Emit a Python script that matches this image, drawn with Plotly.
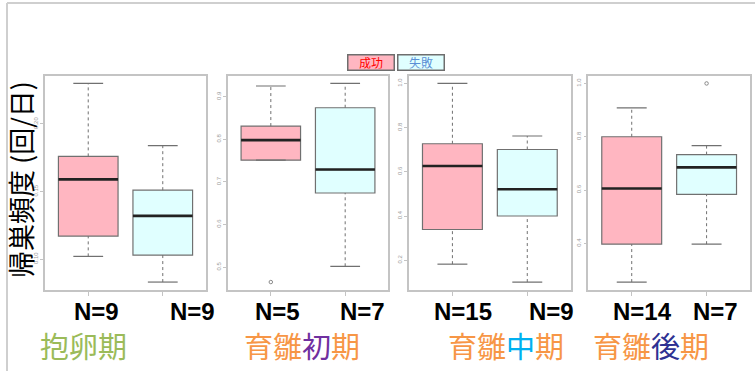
import plotly.graph_objects as go

# Breeding stages and sample sizes
periods = ["抱卵期", "育雛初期", "育雛中期", "育雛後期"]
n_success = [9, 5, 15, 14]
n_failure = [9, 7, 9, 7]

# Box statistics per stage: lower whisker, Q1, median, Q3, upper whisker, outliers
success_low = [0.102, 0.751, 0.182, 0.255]
success_q1 = [0.117, 0.751, 0.339, 0.397]
success_med = [0.159, 0.798, 0.626, 0.606]
success_q3 = [0.176, 0.831, 0.727, 0.800]
success_high = [0.230, 0.925, 1.000, 0.908]
success_out = [[], [0.465], [], []]

failure_low = [0.083, 0.502, 0.101, 0.397]
failure_q1 = [0.103, 0.674, 0.400, 0.584]
failure_med = [0.132, 0.729, 0.521, 0.685]
failure_q3 = [0.151, 0.874, 0.701, 0.733]
failure_high = [0.184, 0.931, 0.762, 0.767]
failure_out = [[], [], [], [1.0]]

# Tick labels per panel
tick_vals = [
    [0.10, 0.15, 0.20],
    [0.5, 0.6, 0.7, 0.8, 0.9],
    [0.2, 0.4, 0.6, 0.8, 1.0],
    [0.4, 0.6, 0.8, 1.0],
]
tick_text = [
    ["0.10", "0.15", "0.20"],
    ["0.5", "0.6", "0.7", "0.8", "0.9"],
    ["0.2", "0.4", "0.6", "0.8", "1.0"],
    ["0.4", "0.6", "0.8", "1.0"],
]

W, H = 755, 371
PINK = "#FFB6C1"
CYAN = "#E0FFFF"
BOX_LINE = "#707070"
FRAME = "#c4c4c4"
TICK_FONT = "#9a9a9a"

# Panel placement in pixels (left, right), shared top/bottom
panel_px = [(45, 206), (227.7, 388.3), (409, 570.7), (588.3, 750)]
top_px, bottom_px = 75.5, 290
BOX_W = 0.8

fig = go.Figure()


def add_group(i, pos, low, q1, med, q3, high, outs, fill):
    xa = "x" if i == 0 else f"x{i + 1}"
    ya = "y" if i == 0 else f"y{i + 1}"
    # box body
    fig.add_trace(go.Box(
        x=[pos], q1=[q1], median=[med], q3=[q3],
        lowerfence=[q1], upperfence=[q3],
        width=BOX_W, whiskerwidth=0, fillcolor=fill,
        line=dict(color=BOX_LINE, width=1.2),
        boxpoints=False, hoverinfo="skip", showlegend=False,
        xaxis=xa, yaxis=ya,
    ))
    # dashed whisker stems
    for a, b in ((low, q1), (q3, high)):
        fig.add_trace(go.Scatter(
            x=[pos, pos], y=[a, b], mode="lines",
            line=dict(color=BOX_LINE, width=1, dash="3px,3px"),
            hoverinfo="skip", showlegend=False, xaxis=xa, yaxis=ya,
        ))
    # whisker caps
    for v in (low, high):
        fig.add_trace(go.Scatter(
            x=[pos - BOX_W / 4, pos + BOX_W / 4], y=[v, v], mode="lines",
            line=dict(color=BOX_LINE, width=1.2),
            hoverinfo="skip", showlegend=False, xaxis=xa, yaxis=ya,
        ))
    # median
    fig.add_trace(go.Scatter(
        x=[pos - BOX_W / 2, pos + BOX_W / 2], y=[med, med], mode="lines",
        line=dict(color="#222222", width=2.6),
        hoverinfo="skip", showlegend=False, xaxis=xa, yaxis=ya,
    ))
    # outliers
    if outs:
        fig.add_trace(go.Scatter(
            x=[pos] * len(outs), y=outs, mode="markers",
            marker=dict(symbol="circle-open", size=3.5, color="#8a8a8a",
                        line=dict(width=1)),
            hoverinfo="skip", showlegend=False, xaxis=xa, yaxis=ya,
        ))


layout_axes = {}
for i in range(len(periods)):
    add_group(i, 1, success_low[i], success_q1[i], success_med[i],
              success_q3[i], success_high[i], success_out[i], PINK)
    add_group(i, 2, failure_low[i], failure_q1[i], failure_med[i],
              failure_q3[i], failure_high[i], failure_out[i], CYAN)

    vals = [success_low[i], success_high[i], failure_low[i], failure_high[i]]
    vals += success_out[i] + failure_out[i]
    lo, hi = min(vals), max(vals)
    pad = (hi - lo) * 0.04

    left, right = panel_px[i]
    xkey = "xaxis" if i == 0 else f"xaxis{i + 1}"
    ykey = "yaxis" if i == 0 else f"yaxis{i + 1}"
    xa_name = "x" if i == 0 else f"x{i + 1}"
    ya_name = "y" if i == 0 else f"y{i + 1}"
    layout_axes[xkey] = dict(
        domain=[left / W, right / W], range=[0.42, 2.58],
        anchor=ya_name, tickvals=[1, 2], showticklabels=False,
        ticks="outside", ticklen=4, tickcolor=FRAME, tickwidth=1,
        showline=True, mirror=True, linecolor=FRAME, linewidth=1.5,
        showgrid=False, zeroline=False, fixedrange=True,
    )
    layout_axes[ykey] = dict(
        domain=[1 - bottom_px / H, 1 - top_px / H], range=[lo - pad, hi + pad],
        anchor=xa_name, tickvals=tick_vals[i], ticktext=tick_text[i],
        tickangle=-90, tickfont=dict(size=6, color=TICK_FONT,
                                     family="Liberation Sans, Arial"),
        ticks="outside", ticklen=3, tickcolor=FRAME, tickwidth=1,
        showline=True, mirror=True, linecolor=FRAME, linewidth=1.5,
        showgrid=False, zeroline=False, fixedrange=True,
    )

annotations = []

# Sample size labels under each box
n_labels = []
for i in range(len(periods)):
    n_labels += [f"N={n_success[i]}", f"N={n_failure[i]}"]
n_x_px = [96, 192, 277, 362, 463, 551, 642, 715]
for txt, xp in zip(n_labels, n_x_px):
    annotations.append(dict(
        text=f"<b>{txt}</b>", x=xp / W, y=1 - 311 / H, xref="paper", yref="paper",
        xanchor="center", yanchor="middle", showarrow=False,
        font=dict(size=24, color="#000000", family="Liberation Sans, Arial"),
    ))

# Stage names with coloured parts
ORANGE = "#F79646"
stage_text = [
    '<span style="color:#9BBB59">抱卵期</span>',
    f'<span style="color:{ORANGE}">育雛</span><span style="color:#7030A0">初</span>'
    f'<span style="color:{ORANGE}">期</span>',
    f'<span style="color:{ORANGE}">育雛</span><span style="color:#00B0F0">中</span>'
    f'<span style="color:{ORANGE}">期</span>',
    f'<span style="color:{ORANGE}">育雛</span><span style="color:#2E3192">後</span>'
    f'<span style="color:{ORANGE}">期</span>',
]
stage_x_px = [83, 302, 506, 651]
for txt, xp in zip(stage_text, stage_x_px):
    annotations.append(dict(
        text=txt, x=xp / W, y=1 - 345 / H, xref="paper", yref="paper",
        xanchor="center", yanchor="middle", showarrow=False,
        font=dict(size=29, family="Noto Sans CJK JP"),
    ))

# Y-axis title
annotations.append(dict(
    text="帰巣頻度 (回/日)", x=20 / W, y=1 - 180 / H, xref="paper", yref="paper",
    xanchor="center", yanchor="middle", textangle=-90, showarrow=False,
    font=dict(size=27, color="#000000", family="Noto Sans CJK JP"),
))

# Legend boxes
for txt, xp, bg, fc in (("成功", 371.2, PINK, "#FF0000"),
                        ("失敗", 421.3, CYAN, "#5B8FD6")):
    annotations.append(dict(
        text=txt, x=xp / W, y=1 - 62 / H, xref="paper", yref="paper",
        xanchor="center", yanchor="middle", showarrow=False,
        width=43, height=12, bgcolor=bg, bordercolor="#6e6e6e",
        borderwidth=1.5, borderpad=1,
        font=dict(size=12, color=fc, family="Noto Sans CJK JP"),
    ))

# Outer slide frame (left and top edges)
shapes = [
    dict(type="line", xref="paper", yref="paper", x0=7 / W, x1=7 / W,
         y0=-0.05, y1=1 - 3 / H, line=dict(color="#cfcfcf", width=2)),
    dict(type="line", xref="paper", yref="paper", x0=7 / W, x1=1.05,
         y0=1 - 3 / H, y1=1 - 3 / H, line=dict(color="#cfcfcf", width=2)),
]

fig.update_layout(
    width=W, height=H, margin=dict(l=0, r=0, t=0, b=0),
    paper_bgcolor="#ffffff", plot_bgcolor="#ffffff",
    showlegend=False, annotations=annotations, shapes=shapes,
    **layout_axes,
)

fig.write_html("out.html", config={"displayModeBar": False})
